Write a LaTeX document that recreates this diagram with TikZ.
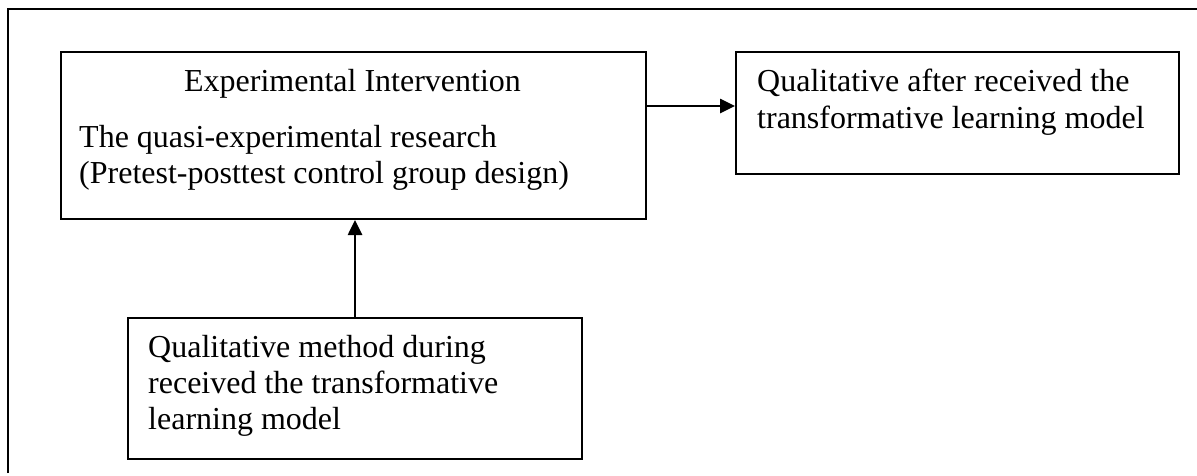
\documentclass[tikz,border=0pt]{standalone}
\usepackage{fontspec}
\setmainfont{Liberation Serif}
\usetikzlibrary{arrows.meta}
\begin{document}
\begin{tikzpicture}[x=1pt,y=-1pt,
  box/.style={draw,line width=2pt,rectangle,inner sep=0pt,anchor=north west},
  txt/.style={anchor=base west,inner sep=0pt,font=\fontsize{32}{33}\selectfont},
  ctxt/.style={anchor=base,inner sep=0pt,font=\fontsize{32}{33}\selectfont},
  arr/.style={line width=2.6pt,-{Triangle[length=15pt,width=14pt]}},
  frameline/.style={line width=2pt}]
\useasboundingbox (0,0) rectangle (1197,475);
% outer frame (only top and left edges visible)
\coordinate (ftl) at (8,9);
\coordinate (ftr) at (1199,9);
\coordinate (fbl) at (8,473);
\draw[frameline] (fbl) -- (ftl) -- (ftr);
% boxes
\node[box,minimum width=585pt,minimum height=167pt] (A) at (60,51) {};
\node[box,minimum width=443pt,minimum height=122pt] (B) at (735,51) {};
\node[box,minimum width=454pt,minimum height=141pt] (C) at (127,317) {};
% texts
\node[ctxt] (a1) at (352.5,91) {Experimental Intervention};
\node[txt] (a2) at (79,147) {The quasi-experimental research};
\node[txt] (a3) at (79,183) {(Pretest-posttest control group design)};
\node[txt] (b1) at (757,91) {Qualitative after received the};
\node[txt] (b2) at (757,128) {transformative learning model};
\node[txt] (c1) at (148,357) {Qualitative method during};
\node[txt] (c2) at (148,393) {received the transformative};
\node[txt] (c3) at (148,429) {learning model};
% connectors
\coordinate (ay) at (0,106);
\draw[arr] (A.east |- ay) -- (B.west |- ay);
\draw[arr] (C.north) -- (C.north |- A.south);
\end{tikzpicture}
\end{document}
